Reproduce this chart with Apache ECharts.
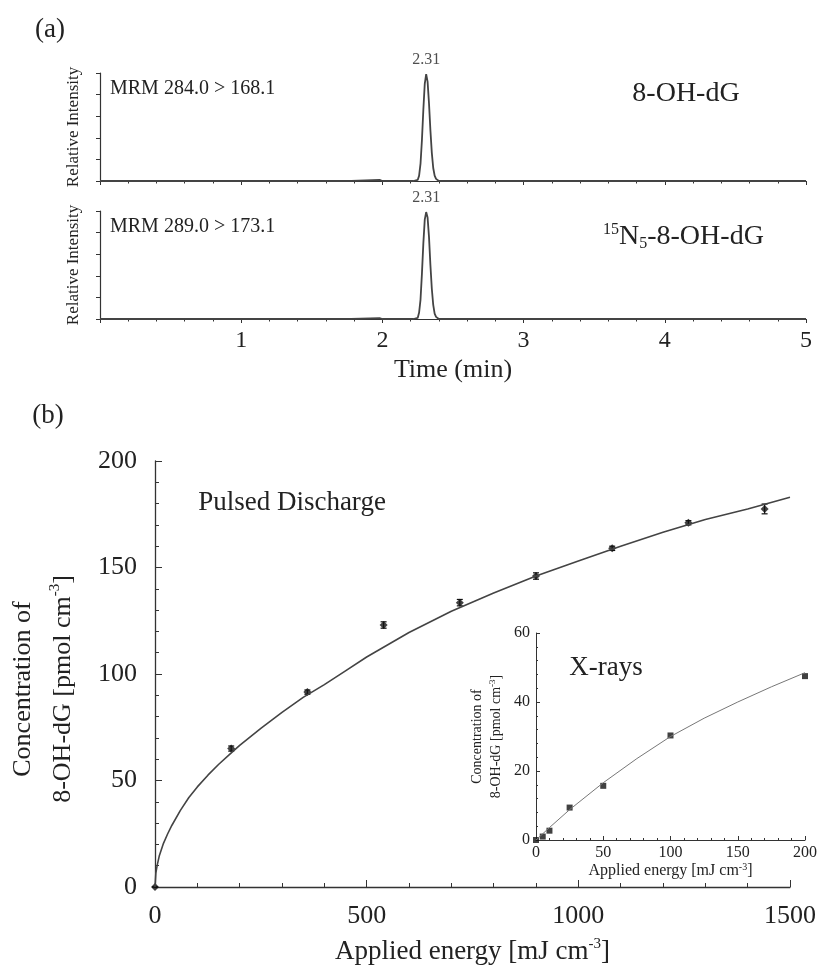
<!DOCTYPE html>
<html>
<head>
<meta charset="utf-8">
<script src="https://cdn.jsdelivr.net/npm/echarts@6/dist/echarts.min.js"></script>
<style>html,body{margin:0;padding:0;background:#fff}#c{width:822px;height:974px}</style>
</head>
<body>
<div id="c"></div>
<script>
// ---------- Panel (a): chromatograms ----------
const chromTime1 = [0, 1.78, 1.79, 1.98, 2.0, 2.22, 2.25, 2.26, 2.27, 2.28, 2.29, 2.30, 2.31, 2.32, 2.33, 2.34, 2.35, 2.36, 2.37, 2.38, 2.40, 5];
const intensity1 = [0, 0, 1.0, 1.0, 0, 0, 1, 5, 16, 38, 66, 90, 99, 92, 72, 47, 26, 12, 5, 2, 0, 0];
const chromTime2 = [0, 1.78, 1.79, 1.98, 2.0, 2.22, 2.25, 2.26, 2.27, 2.28, 2.29, 2.30, 2.31, 2.32, 2.33, 2.34, 2.35, 2.36, 2.37, 2.38, 2.40, 5];
const intensity2 = [0, 0, 0.8, 0.8, 0, 0, 1, 6, 18, 42, 70, 92, 99, 94, 76, 50, 28, 13, 5, 2, 0, 0];
const peakTimes = [2.31, 2.31];
const peakHeights = [99, 99];
const timeTicks = [1, 2, 3, 4, 5];

// ---------- Panel (b): pulsed discharge ----------
const pdEnergy = [0, 180, 360, 540, 720, 900, 1080, 1260, 1440];
const pdConc = [0, 65, 91.5, 123, 133.5, 146, 159, 171, 177.5];
const pdErr = [0, 1.2, 1.0, 1.5, 1.5, 1.5, 1.0, 1.0, 2.3];
const pdFitEnergy = [0, 2, 5, 10, 20, 30, 40, 60, 80, 100, 125, 150, 175, 200, 250, 300, 350, 400, 450, 500, 600, 700, 800, 900, 1000, 1100, 1200, 1300, 1400, 1500];
const pdFitConc = [0, 6.5, 10, 14.5, 20.5, 25, 29, 36, 42, 47, 52.5, 57.5, 62, 66.5, 74.5, 82, 89, 95, 101.5, 108, 119.5, 129.5, 138, 146, 153, 160, 166.5, 172.5, 177.5, 183];

// ---------- Inset: X-rays ----------
const xrEnergy = [0, 5, 10, 25, 50, 100, 200];
const xrConc = [0, 1.0, 2.7, 9.4, 15.7, 30.3, 47.5];
const xrFitEnergy = [0, 10, 25, 50, 75, 100, 125, 150, 175, 200];
const xrFitConc = [0, 3.6, 8.8, 16.6, 23.6, 30, 35.3, 40, 44.4, 48.5];

const FONT = "'Liberation Serif', 'Times New Roman', serif";
const TXT = '#222';
const AX = '#333';

function pairs(xs, ys) { return xs.map((x, i) => [x, ys[i]]); }

const chart = echarts.init(document.getElementById('c'), null, {renderer: 'canvas'});

function chromX(idx, showLabels) {
  return {
    type: 'value', gridIndex: idx, min: 0, max: 5, interval: 1,
    axisLine: {show: true, onZero: false, lineStyle: {color: AX, width: 1.2}},
    axisTick: {show: true, length: 4, lineStyle: {color: AX}},
    minorTick: {show: true, splitNumber: 5, length: 2.5, lineStyle: {color: AX}},
    splitLine: {show: false}, minorSplitLine: {show: false},
    axisLabel: {show: showLabels, fontSize: 24, fontFamily: FONT, color: TXT, margin: 10,
      formatter: v => timeTicks.indexOf(v) >= 0 ? String(v) : ''},
    name: showLabels ? 'Time (min)' : '', nameLocation: 'middle', nameGap: 38,
    nameTextStyle: {fontSize: 26, fontFamily: FONT, color: TXT}
  };
}
function chromY(idx) {
  return {
    type: 'value', gridIndex: idx, min: 0, max: 100, interval: 20,
    axisLine: {show: true, lineStyle: {color: AX, width: 1.2}},
    axisTick: {show: true, length: 4, lineStyle: {color: AX}},
    axisLabel: {show: false}, splitLine: {show: false},
    name: 'Relative Intensity', nameLocation: 'middle', nameGap: 18,
    nameTextStyle: {fontSize: 17, fontFamily: FONT, color: TXT}
  };
}

const supRich = {
  a: {fontSize: 27, fontFamily: FONT, color: TXT, lineHeight: 30},
  s: {fontSize: 15, fontFamily: FONT, color: TXT, lineHeight: 20, verticalAlign: 'top'}
};
const supRichSmall = {
  a: {fontSize: 16, fontFamily: FONT, color: TXT, lineHeight: 18},
  s: {fontSize: 10, fontFamily: FONT, color: TXT, lineHeight: 12, verticalAlign: 'top'}
};

const option = {
  backgroundColor: '#fff',
  animation: false,
  grid: [
    {left: 100, top: 73, width: 706, height: 108, outerBoundsMode: 'none', containLabel: false},
    {left: 100, top: 211, width: 706, height: 108, outerBoundsMode: 'none', containLabel: false},
    {left: 155, top: 461, width: 635, height: 426, outerBoundsMode: 'none', containLabel: false},
    {left: 536, top: 633, width: 269, height: 207, outerBoundsMode: 'none', containLabel: false}
  ],
  xAxis: [
    chromX(0, false),
    chromX(1, true),
    {
      type: 'value', gridIndex: 2, min: 0, max: 1500, interval: 500,
      axisLine: {show: true, onZero: false, lineStyle: {color: AX, width: 1.3}},
      axisTick: {show: true, inside: true, length: 7, lineStyle: {color: AX}},
      minorTick: {show: true, splitNumber: 5, length: 4, lineStyle: {color: AX}},
      splitLine: {show: false},
      axisLabel: {fontSize: 26, fontFamily: FONT, color: TXT, margin: 16, formatter: v => String(v)},
      name: '{a|Applied energy [mJ cm}{s|-3}{a|]}', nameLocation: 'middle', nameGap: 50,
      nameTextStyle: {rich: supRich}
    },
    {
      type: 'value', gridIndex: 3, min: 0, max: 200, interval: 50,
      axisLine: {show: true, onZero: false, lineStyle: {color: AX, width: 1}},
      axisTick: {show: true, inside: true, length: 4, lineStyle: {color: AX}},
      minorTick: {show: true, splitNumber: 5, length: 2, lineStyle: {color: AX}},
      splitLine: {show: false},
      axisLabel: {fontSize: 16, fontFamily: FONT, color: TXT, margin: 5, formatter: v => String(v)},
      name: '{a|Applied energy [mJ cm}{s|-3}{a|]}', nameLocation: 'middle', nameGap: 20,
      nameTextStyle: {rich: supRichSmall}
    }
  ],
  yAxis: [
    chromY(0),
    chromY(1),
    {
      type: 'value', gridIndex: 2, min: 0, max: 200, interval: 50,
      axisLine: {show: true, onZero: false, lineStyle: {color: AX, width: 1.3}},
      axisTick: {show: true, inside: true, length: 7, lineStyle: {color: AX}},
      minorTick: {show: true, splitNumber: 5, length: 4, lineStyle: {color: AX}},
      splitLine: {show: false},
      axisLabel: {fontSize: 26, fontFamily: FONT, color: TXT, margin: 18}
    },
    {
      type: 'value', gridIndex: 3, min: 0, max: 60, interval: 20,
      axisLine: {show: true, onZero: false, lineStyle: {color: AX, width: 1}},
      axisTick: {show: true, inside: true, length: 4, lineStyle: {color: AX}},
      minorTick: {show: true, splitNumber: 5, length: 2, lineStyle: {color: AX}},
      splitLine: {show: false},
      axisLabel: {fontSize: 16, fontFamily: FONT, color: TXT, margin: 6},
      name: '{a|Concentration of}\n{a|8-OH-dG [pmol cm}{s|-3}{a|]}', nameLocation: 'middle', nameGap: 30,
      nameTextStyle: {rich: {
        a: {fontSize: 14, fontFamily: FONT, color: TXT, lineHeight: 19},
        s: {fontSize: 9, fontFamily: FONT, color: TXT, padding: [0, 0, 8, 0]}
      }}
    }
  ],
  series: [
    {type: 'line', xAxisIndex: 0, yAxisIndex: 0, data: pairs(chromTime1, intensity1), showSymbol: false,
      lineStyle: {color: '#444', width: 1.8}, silent: true},
    {type: 'line', xAxisIndex: 1, yAxisIndex: 1, data: pairs(chromTime2, intensity2), showSymbol: false,
      lineStyle: {color: '#444', width: 1.8}, silent: true},
    {type: 'scatter', xAxisIndex: 0, yAxisIndex: 0, data: [[peakTimes[0], peakHeights[0]]], symbolSize: 0,
      label: {show: true, position: 'top', distance: 6, formatter: p => p.value[0].toFixed(2), fontSize: 16, fontFamily: FONT, color: TXT}},
    {type: 'scatter', xAxisIndex: 1, yAxisIndex: 1, data: [[peakTimes[1], peakHeights[1]]], symbolSize: 0,
      label: {show: true, position: 'top', distance: 6, formatter: p => p.value[0].toFixed(2), fontSize: 16, fontFamily: FONT, color: TXT}},
    // main fit
    {type: 'line', xAxisIndex: 2, yAxisIndex: 2, data: pairs(pdFitEnergy, pdFitConc), showSymbol: false,
      smooth: false, lineStyle: {color: '#444', width: 1.6}, silent: true},
    // error bars
    {type: 'custom', xAxisIndex: 2, yAxisIndex: 2,
      data: pdEnergy.map((x, i) => [x, pdConc[i] - pdErr[i], pdConc[i] + pdErr[i]]),
      renderItem: function (params, api) {
        const lo = api.coord([api.value(0), api.value(1)]);
        const hi = api.coord([api.value(0), api.value(2)]);
        const w = 3;
        return {type: 'group', children: [
          {type: 'line', shape: {x1: lo[0], y1: lo[1], x2: hi[0], y2: hi[1]}, style: {stroke: '#111', lineWidth: 1.2}},
          {type: 'line', shape: {x1: lo[0] - w, y1: lo[1], x2: lo[0] + w, y2: lo[1]}, style: {stroke: '#111', lineWidth: 1.2}},
          {type: 'line', shape: {x1: hi[0] - w, y1: hi[1], x2: hi[0] + w, y2: hi[1]}, style: {stroke: '#111', lineWidth: 1.2}}
        ]};
      }, silent: true},
    {type: 'scatter', xAxisIndex: 2, yAxisIndex: 2, data: pairs(pdEnergy, pdConc), symbol: 'diamond', symbolSize: 8,
      itemStyle: {color: '#111'}, silent: true},
    // inset
    {type: 'line', xAxisIndex: 3, yAxisIndex: 3, data: pairs(xrFitEnergy, xrFitConc), showSymbol: false,
      smooth: false, lineStyle: {color: '#777', width: 1}, silent: true},
    {type: 'scatter', xAxisIndex: 3, yAxisIndex: 3, data: pairs(xrEnergy, xrConc), symbol: 'rect', symbolSize: 6,
      itemStyle: {color: '#111'}, silent: true}
  ],
  graphic: [
    {type: 'text', x: 50, y: 30, style: {text: '(a)', fontSize: 27, fontFamily: FONT, fill: TXT, align: 'center', verticalAlign: 'middle'}},
    {type: 'text', x: 48, y: 416, style: {text: '(b)', fontSize: 27, fontFamily: FONT, fill: TXT, align: 'center', verticalAlign: 'middle'}},
    {type: 'text', x: 110, y: 89, style: {text: 'MRM 284.0 > 168.1', fontSize: 20, fontFamily: FONT, fill: TXT, align: 'left', verticalAlign: 'middle'}},
    {type: 'text', x: 110, y: 227, style: {text: 'MRM 289.0 > 173.1', fontSize: 20, fontFamily: FONT, fill: TXT, align: 'left', verticalAlign: 'middle'}},
    {type: 'text', x: 686, y: 94, style: {text: '8-OH-dG', fontSize: 28, fontFamily: FONT, fill: TXT, align: 'center', verticalAlign: 'middle'}},
    {type: 'text', x: 603, y: 237, style: {
      text: '{s|15}{a|N}{b|5}{a|-8-OH-dG}', align: 'left', verticalAlign: 'middle',
      rich: {
        a: {fontSize: 28, fontFamily: FONT, fill: TXT, lineHeight: 30},
        s: {fontSize: 16, fontFamily: FONT, fill: TXT, lineHeight: 16, verticalAlign: 'top'},
        b: {fontSize: 16, fontFamily: FONT, fill: TXT, lineHeight: 12, verticalAlign: 'bottom'}
      }}},
    {type: 'text', x: 292, y: 503, style: {text: 'Pulsed Discharge', fontSize: 27, fontFamily: FONT, fill: TXT, align: 'center', verticalAlign: 'middle'}},
    {type: 'text', x: 606, y: 668, style: {text: 'X-rays', fontSize: 27, fontFamily: FONT, fill: TXT, align: 'center', verticalAlign: 'middle'}},
    {type: 'text', x: 43, y: 689, rotation: Math.PI / 2, style: {
      text: '{a|Concentration of}\n{a|8-OH-dG [pmol cm}{s|-3}{a|]}', align: 'center', verticalAlign: 'middle',
      rich: {
        a: {fontSize: 26, fontFamily: FONT, fill: TXT, lineHeight: 40},
        s: {fontSize: 15, fontFamily: FONT, fill: TXT, padding: [0, 0, 16, 0]}
      }}}
  ]
};
chart.setOption(option);
</script>
</body>
</html>
